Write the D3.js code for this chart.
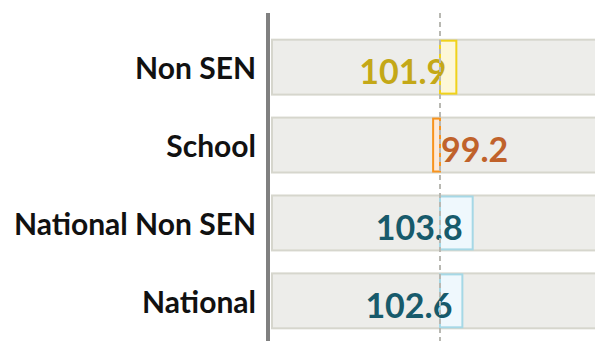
<!DOCTYPE html>
<html>
<head>
<meta charset="utf-8">
<script src="https://cdn.jsdelivr.net/npm/d3@7"></script>
<style>
  html, body { margin: 0; padding: 0; background: #fff; }
  svg { display: block; }
  text { font-family: "Lato", "Open Sans", sans-serif; font-weight: 700; }
</style>
</head>
<body>
<svg id="chart" width="595" height="341"></svg>
<script>
// Progress scores by group (100 = baseline)
const categories = ["Non SEN", "School", "National Non SEN", "National"];
const values = [101.9, 99.2, 103.8, 102.6];
const baseline = 100;
const barFills = ["#fdf7d8", "#fde9d9", "#eff8fd", "#eff8fd"];
const barStrokes = ["#f0d21a", "#f7931e", "#a6d8e6", "#a6d8e6"];
const labelColors = ["#c4a817", "#c0622b", "#175a6b", "#175a6b"];

const W = 595, H = 341;
const svg = d3.select("#chart");

const x = d3.scaleLinear().domain([80, 120]).range([268, 612]);
const y = d3.scaleBand().domain(categories).range([28, 340]).paddingInner(0.295).paddingOuter(0.15);

const rows = svg.selectAll("g.row").data(categories).join("g").attr("class", "row");

// background track for each row
rows.append("rect")
  .attr("x", 272)
  .attr("y", d => y(d))
  .attr("width", W - 272 + 10)
  .attr("height", y.bandwidth())
  .attr("fill", "#ededea")
  .attr("stroke", "#d6d6cd")
  .attr("stroke-width", 2);

// baseline reference line
svg.append("line")
  .attr("x1", x(baseline)).attr("x2", x(baseline))
  .attr("y1", 13).attr("y2", H)
  .attr("stroke", "#b8b8b2")
  .attr("stroke-width", 2)
  .attr("stroke-dasharray", "5,4");

// value bars from baseline
rows.append("rect")
  .attr("x", (d, i) => Math.min(x(baseline), x(values[i])))
  .attr("y", d => y(d) + 1)
  .attr("width", (d, i) => Math.abs(x(values[i]) - x(baseline)))
  .attr("height", y.bandwidth() - 2)
  .attr("fill", (d, i) => barFills[i])
  .attr("stroke", (d, i) => barStrokes[i])
  .attr("stroke-width", 2);

// value labels
rows.append("text")
  .attr("x", (d, i) => values[i] >= baseline ? x(values[i]) - 10 : x(baseline) + 1)
  .attr("y", d => y(d) + y.bandwidth() / 2 + 17)
  .attr("text-anchor", (d, i) => values[i] >= baseline ? "end" : "start")
  .attr("fill", (d, i) => labelColors[i])
  .attr("font-size", 34)
  .text((d, i) => values[i].toFixed(1));

// category labels
rows.append("text")
  .attr("x", 256)
  .attr("y", d => y(d) + y.bandwidth() / 2 + 12)
  .attr("text-anchor", "end")
  .attr("fill", "#111")
  .attr("font-size", 30)
  .text(d => d);

// left axis rule
svg.append("line")
  .attr("x1", 268).attr("x2", 268)
  .attr("y1", 13).attr("y2", H)
  .attr("stroke", "#808080")
  .attr("stroke-width", 4);
</script>
</body>
</html>
